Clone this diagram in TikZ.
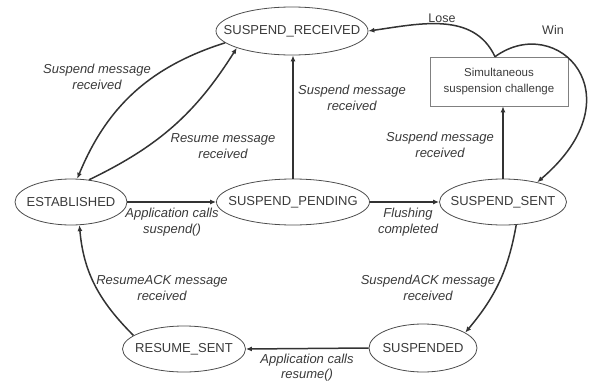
\documentclass[tikz,border=0pt]{standalone}
\usepackage{fontspec}
\setmainfont{Liberation Sans}
\usetikzlibrary{arrows.meta,shapes.geometric}
\definecolor{ink}{HTML}{333333}
\definecolor{txt}{HTML}{3A3A3A}
\newcommand{\stname}[1]{\makebox[0pt][c]{#1}}
\begin{document}
\begin{tikzpicture}[x=1pt,y=1pt,
  state/.style={ellipse, draw=black!70, line width=0.8pt, inner sep=0pt, font=\fontsize{13}{15}\selectfont, text=txt},
  lab/.style={font=\fontsize{13}{16}\selectfont\itshape, text=txt, align=center, inner sep=0pt},
  plain/.style={font=\fontsize{12.5}{15}\selectfont, text=txt, inner sep=0pt},
  tr/.style={draw=ink, line width=1.5pt, -{Latex[length=6pt,width=5pt]}},
]
\useasboundingbox (0,0) rectangle (592,-383);
\node[state, minimum width=152pt, minimum height=48pt] (sr) at (292,-31) {\stname{SUSPEND\_RECEIVED}};
\node[state, minimum width=112pt, minimum height=46pt] (est) at (71,-202) {\stname{ESTABLISHED}};
\node[state, minimum width=153pt, minimum height=46pt] (sp) at (293,-202) {\stname{SUSPEND\_PENDING}};
\node[state, minimum width=127pt, minimum height=46pt] (ss) at (503,-202) {\stname{SUSPEND\_SENT}};
\node[state, minimum width=108pt, minimum height=48pt] (sd) at (423,-348) {\stname{SUSPENDED}};
\node[state, minimum width=123pt, minimum height=46pt] (rs) at (184,-349) {\stname{RESUME\_SENT}};
\node[draw=black!50, line width=0.6pt, minimum width=138pt, minimum height=49pt, inner sep=0pt, align=center, font=\fontsize{11.5}{16}\selectfont, text=txt] (box) at (499,-81.5) {Simultaneous\\suspension challenge};

\draw[tr] (sr.190) to[bend right=25] (est.75);
\draw[tr] (est.51) to[bend right=16] (sr.197);
\draw[tr] (sp.north) -- (sp.north |- sr.south);
\draw[tr] (est.east) -- (sp.west);
\draw[tr] (sp.east) -- (ss.west);
\draw[tr] (ss.north) -- (ss.north |- box.south);
\draw[tr] (sd.west) -- (rs.east);
\draw[tr] (rs.165) to[out=135, in=-85] (est.-70);
\draw[tr] (ss.-60) to[out=-100, in=50] (sd.20);
\coordinate (bt) at ([xshift=-4pt]box.north);
\draw[tr] (bt) to[out=115, in=8] (sr.east);
\draw[tr] (bt) .. controls +(62,45) and +(102,87) .. (ss.30);

\node[lab] (l1) at (97,-77) {Suspend message\\received};
\node[lab] (l2) at (223,-146) {Resume message\\received};
\node[lab] (l3) at (352,-98) {Suspend message\\received};
\node[lab] (l4) at (172,-222) {Application calls\\suspend()};
\node[lab] (l5) at (408,-222) {Flushing\\completed};
\node[lab] (l6) at (440,-145) {Suspend message\\received};
\node[lab] (l7) at (428,-288) {SuspendACK message\\received};
\node[lab, font=\fontsize{13}{14.5}\selectfont\itshape] (l8) at (307,-367.5) {Application calls\\resume()};
\node[lab] (l9) at (162,-288) {ResumeACK message\\received};
\node[plain] (lose) at (442,-18) {Lose};
\node[plain] (win) at (553,-30) {Win};
\end{tikzpicture}
\end{document}
